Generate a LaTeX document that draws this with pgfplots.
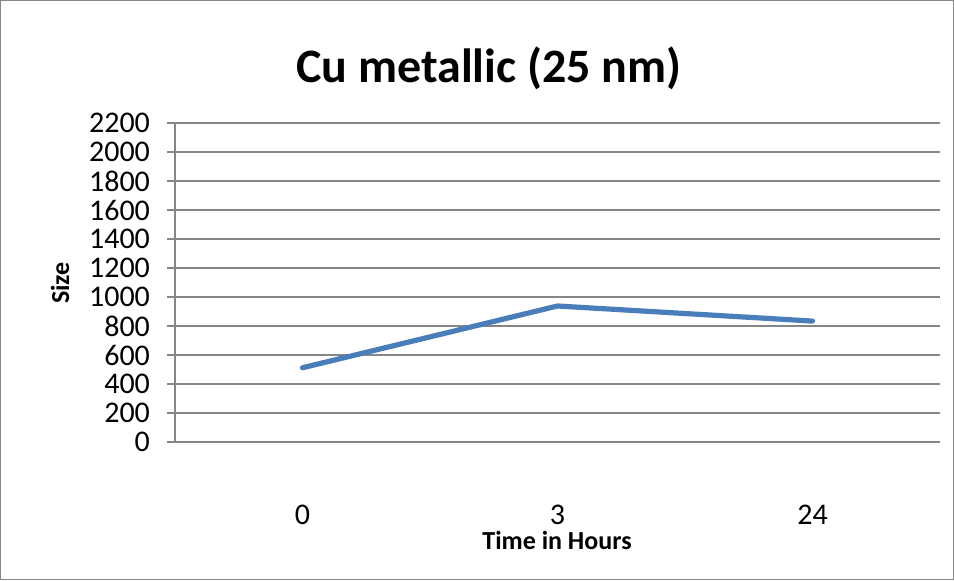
\documentclass[border=0pt]{standalone}
\usepackage{pgfplots}
\pgfplotsset{compat=1.18}
\usepackage{fontspec}
\setmainfont{Carlito}
\definecolor{xlblue}{HTML}{4A7EBB}
\definecolor{xlgrid}{HTML}{868686}
\begin{document}
\begin{tikzpicture}
% whole picture: 954x580 px at 0.5pt per px
\draw[xlgrid, line width=0.6pt] (0.3pt,0.3pt) rectangle (476.7pt,289.7pt);
\begin{axis}[
    at={(87.5pt,69pt)}, anchor=south west,
    scale only axis,
    width=382.5pt, height=159.5pt,
    xmin=-0.5, xmax=2.5,
    ymin=0, ymax=2200,
    xtick={0,1,2},
    xticklabels={0,3,24},
    ytick={0,200,...,2200},
    ymajorgrids,
    major grid style={xlgrid, line width=1pt},
    axis x line*=bottom,
    axis y line*=left,
    axis line style={xlgrid, line width=1pt, -},
    y tick style={xlgrid, line width=1pt},
    x tick style={draw=none},
    tick align=outside,
    major tick length=4pt,
    /pgf/number format/assume math mode=true,
    yticklabel style={font=\fontsize{15}{15}\selectfont, xshift=-5pt, inner ysep=0pt},
    xticklabel style={font=\fontsize{15}{15}\selectfont, inner sep=0pt, yshift=-27.5pt},
    scaled y ticks=false,
    yticklabel={\pgfmathprintnumber[fixed,1000 sep={}]{\tick}},
  ]
  \addplot[xlblue, line width=2.6pt, line cap=round] coordinates {
    (0,512) (1,938) (2,834)
  };
\end{axis}
\node[font=\bfseries\fontsize{24}{28}\selectfont] at (244.5pt,256pt) {Cu metallic (25 nm)};
\node[font=\bfseries\fontsize{13}{15}\selectfont, rotate=90] at (30pt,148.5pt) {Size};
\node[font=\bfseries\fontsize{13}{15}\selectfont, inner sep=0pt] at (278.5pt,20pt) {Time in Hours};
\end{tikzpicture}
\end{document}
